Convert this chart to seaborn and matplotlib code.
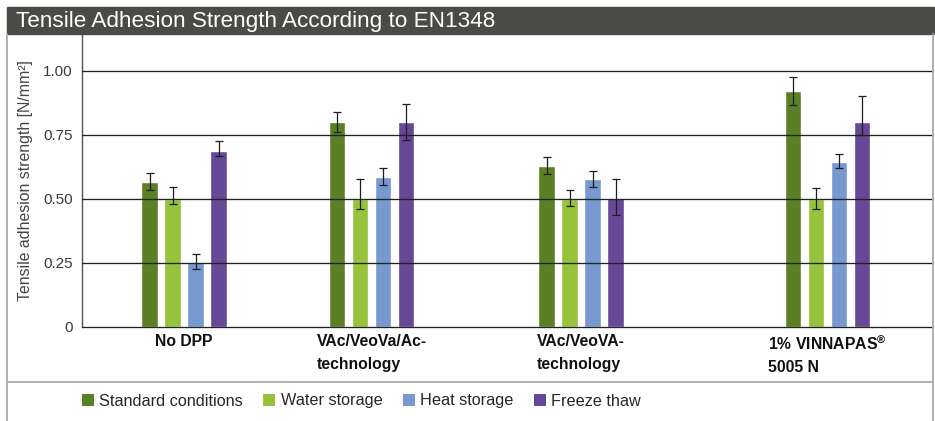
import numpy as np
import pandas as pd
import matplotlib.pyplot as plt
import seaborn as sns
from matplotlib.patches import Patch, Rectangle
from matplotlib.lines import Line2D

# Data
groups = ["No DPP", "VAc/VeoVa/Ac-\ntechnology", "VAc/VeoVA-\ntechnology", "1% VINNAPAS$^{®}$\n5005 N"]
conditions = ["Standard conditions", "Water storage", "Heat storage", "Freeze thaw"]

standard = [0.566, 0.80, 0.629, 0.922]
water = [0.50, 0.50, 0.50, 0.50]
heat = [0.253, 0.586, 0.578, 0.645]
freeze = [0.688, 0.80, 0.505, 0.80]

# error bars (lower, upper)
standard_lo = [0.031, 0.040, 0.031, 0.055]
standard_hi = [0.034, 0.040, 0.034, 0.056]
water_lo = [0.020, 0.038, 0.027, 0.040]
water_hi = [0.046, 0.078, 0.036, 0.043]
heat_lo = [0.028, 0.033, 0.032, 0.024]
heat_hi = [0.033, 0.034, 0.030, 0.029]
freeze_lo = [0.021, 0.071, 0.066, 0.051]
freeze_hi = [0.037, 0.072, 0.075, 0.103]

colors = ["#5b7f24", "#96c23c", "#7799cf", "#674897"]

# layout: group centres on the (pixel-like) x axis, the groups are not evenly spaced
group_x = [184, 371.5, 581, 827.5]

W, H = 935, 421

series = [standard, water, heat, freeze]
lows = [standard_lo, water_lo, heat_lo, freeze_lo]
highs = [standard_hi, water_hi, heat_hi, freeze_hi]

rows = []
for cond, vals, lo, hi in zip(conditions, series, lows, highs):
    for g, gx, v, l, h in zip(groups, group_x, vals, lo, hi):
        rows.append({"group": g, "pos": gx, "condition": cond, "value": v, "lo": l, "hi": h})
df = pd.DataFrame(rows)

sns.set_style("white")
plt.rcParams["font.family"] = ["Liberation Sans", "DejaVu Sans"]
plt.rcParams["mathtext.fontset"] = "custom"
plt.rcParams["mathtext.rm"] = "Liberation Sans:bold"
plt.rcParams["mathtext.it"] = "Liberation Sans:bold"

fig = plt.figure(figsize=(W / 100, H / 100), dpi=100)
ax = fig.add_axes([82 / W, (H - 327) / H, (933 - 82) / W, (327 - 34) / H])

sns.barplot(data=df, x="pos", y="value", hue="condition", hue_order=conditions,
            palette=colors, native_scale=True, width=92 / 187.5, gap=0.3,
            errorbar=None, legend=False, saturation=1, ax=ax)

# error bars on top of each bar, patches sorted left to right = group-major, hue-minor
bars = sorted(ax.patches, key=lambda p: p.get_x())
order = {c: i for i, c in enumerate(conditions)}
df_sorted = df.assign(h=df["condition"].map(order)).sort_values(["pos", "h"])
for p, (_, r) in zip(bars, df_sorted.iterrows()):
    cx = p.get_x() + p.get_width() / 2
    ax.errorbar(cx, r["value"], yerr=[[r["lo"]], [r["hi"]]], fmt="none",
                ecolor="#1e1e1e", elinewidth=0.9, capsize=3.2, capthick=0.9, zorder=4)

# horizontal lines drawn over the bars
for yv in [0, 0.25, 0.5, 0.75, 1.0]:
    ax.axhline(yv, color="#222222", lw=0.95, zorder=3, clip_on=False)

ax.set_xlim(82, 933)
ax.set_ylim(0, (327 - 34) / 256)
ax.set_yticks([0, 0.25, 0.5, 0.75, 1.0], labels=["0", "0.25", "0.50", "0.75", "1.00"])
ax.set_xticks(group_x, labels=groups)
ax.tick_params(axis="y", length=0, pad=6.5, labelsize=11, labelcolor="#3a3a3a")
ax.tick_params(axis="x", length=0, pad=5, labelsize=11.3, labelcolor="#111111")
for lab in ax.get_xticklabels():
    lab.set_fontweight("bold")
    lab.set_multialignment("left")
    lab.set_linespacing(1.65)
ax.set_xlabel("")
ax.set_ylabel("Tensile adhesion strength [N/mm²]", fontsize=11.4, color="#444444")
ax.yaxis.set_label_coords(-0.058, 0.5)

for s in ["top", "right", "bottom"]:
    ax.spines[s].set_visible(False)
ax.spines["left"].set_color("#555555")
ax.spines["left"].set_linewidth(1.0)

# title banner and frame
fig.patches.append(Rectangle((7 / W, 1 - 34 / H), (934 - 7) / W, 27 / H,
                             transform=fig.transFigure, color="#4a4a46", zorder=0))
fig.text(16 / W, 1 - 21 / H, "Tensile Adhesion Strength According to EN1348",
         color="white", fontsize=16.2, va="center", ha="left")
frame_kw = dict(transform=fig.transFigure, color="#aaaaaa", lw=1.3)
fig.lines.append(Line2D([7 / W, 7 / W], [1 - 34 / H, 0], **frame_kw))
fig.lines.append(Line2D([933 / W, 933 / W], [1 - 34 / H, 0], **frame_kw))
fig.lines.append(Line2D([7 / W, 933 / W], [1 - 382 / H, 1 - 382 / H], **frame_kw))

handles = [Patch(facecolor=c, edgecolor="none") for c in colors]
fig.legend(handles, conditions, loc="center left", bbox_to_anchor=(82 / W, 1 - 401 / H),
           ncol=4, frameon=False, fontsize=11.7, handlelength=0.72, handleheight=0.72,
           handletextpad=0.35, columnspacing=1.25, borderpad=0, borderaxespad=0)

fig.savefig("out.png", dpi=100)
